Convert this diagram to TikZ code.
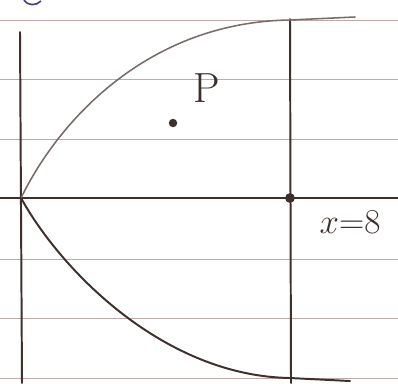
\documentclass[tikz,border=0pt]{standalone}
\usepackage{tikz}
\usetikzlibrary{positioning,calc}
\usepackage{xcolor}
\definecolor{rulecol}{RGB}{190,170,168}
\definecolor{inkcol}{RGB}{62,48,44}
\definecolor{pencol}{RGB}{120,108,104}
\definecolor{bluecol}{RGB}{70,70,140}

\begin{document}
\begin{tikzpicture}[
  x=0.025cm, y=-0.025cm,
  rule/.style={draw=rulecol, line width=0.7pt},
  ink/.style={draw=inkcol, line width=1.4pt, line cap=round},
  dotmark/.style={circle, fill=inkcol, inner sep=0pt, minimum size=6pt},
  hand/.style={text=inkcol, inner sep=0pt}
]
  \useasboundingbox (0,0) rectangle (398,383);
  \fill[white] (0,0) rectangle (398,383);

  % Ruled paper lines
  \foreach \ypos in {20,79,139,259,318,378}
    \draw[rule] (0,\ypos) -- (398,\ypos);

  % Named points
  \coordinate (O) at (21,198);
  \coordinate (axisL) at (0,198);
  \coordinate (axisR) at (398,198);
  \coordinate (yTop) at (20,32);
  \coordinate (yBot) at (22,383);
  \coordinate (lineTop) at (290,19);
  \coordinate (lineBot) at (291,383);
  \coordinate (upMeet) at (290,20);
  \coordinate (lowMeet) at (290,378);
  \coordinate (upEnd) at (355,17);
  \coordinate (lowEnd) at (350,381);

  % Axes and the line x = 8
  \draw[ink] (axisL) -- (axisR);
  \draw[ink] (yTop) -- (yBot);
  \draw[ink] (lineTop) -- (lineBot);

  % Curve, upper branch (pencil) and lower branch (ink)
  \draw[draw=pencol, line width=1.1pt, line cap=round]
    (O) .. controls (60,118) and (150,22) .. (upMeet) -- (upEnd);
  \draw[ink]
    (O) .. controls (62,272) and (165,376) .. (lowMeet) -- (lowEnd);

  % Points and labels
  \node[dotmark] (Pdot) at (173,123) {};
  \node[dotmark, minimum size=7pt] (Qdot) at (290,198) {};
  \node[hand, font=\fontsize{30}{30}\selectfont] (Plabel) at (207,88) {P};
  \node[hand, font=\fontsize{24}{24}\selectfont] (xlabel) at (350,222) {$x{=}8$};

  % Fragment of ink at the top edge
  \draw[draw=bluecol, line width=1.2pt] (24,0) .. controls (28,6) and (36,6) .. (41,1);
\end{tikzpicture}
\end{document}
